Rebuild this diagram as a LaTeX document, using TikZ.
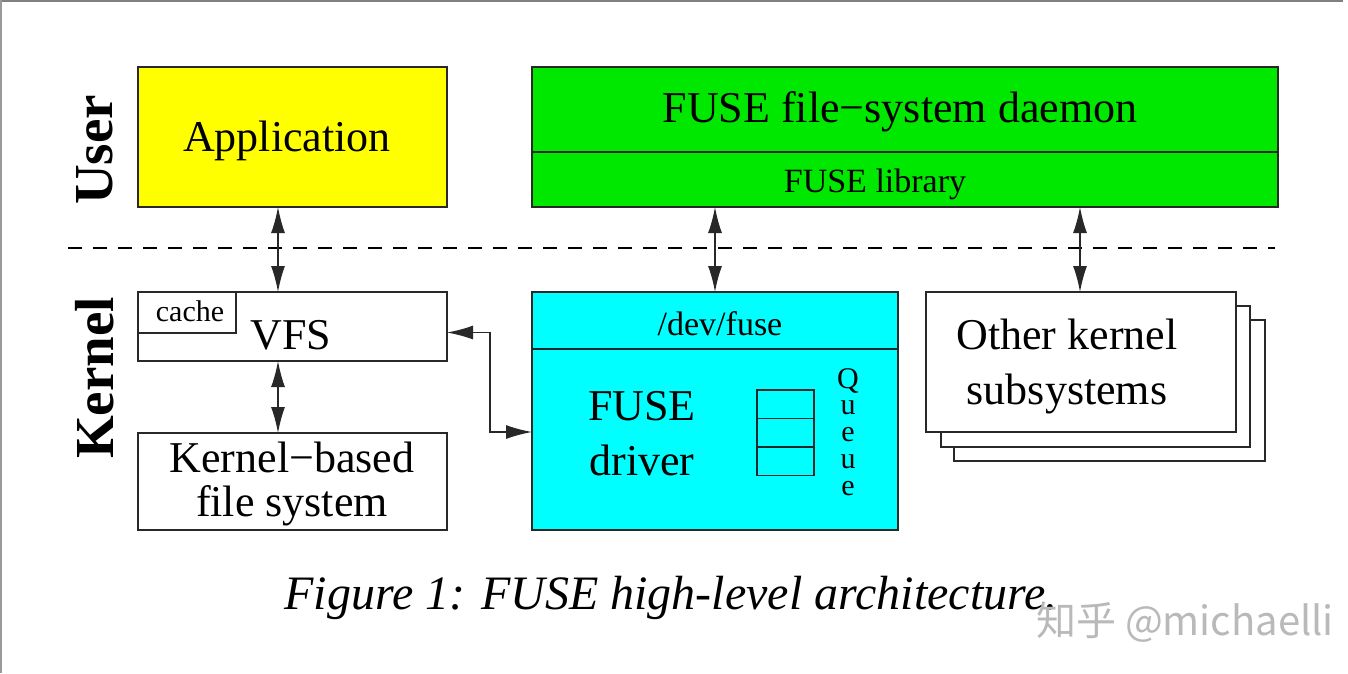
\documentclass[tikz,border=0pt]{standalone}
\usepackage{fontspec}
\setmainfont{Liberation Serif}
\newfontfamily\cjk{Noto Sans CJK SC}
\usetikzlibrary{arrows.meta,calc}
\definecolor{fgreen}{RGB}{0,232,0}
\definecolor{fcyan}{RGB}{0,255,255}
\definecolor{fyellow}{RGB}{255,255,0}
\definecolor{edge}{RGB}{40,40,40}
\begin{document}
\begin{tikzpicture}[x=1pt,y=-1pt,
  box/.style={draw=edge,line width=1.3pt,rectangle,inner sep=0pt,outer sep=0pt,align=center},
  big/.style={font=\fontsize{44}{55}\selectfont},
  small/.style={font=\fontsize{34}{40}\selectfont},
  side/.style={font=\fontsize{55}{60}\selectfont\bfseries,rotate=90},
  qletter/.style={font=\fontsize{30}{30}\selectfont,inner sep=0pt},
  tip/.tip={Latex[length=26pt,width=14pt]},
  arr/.style={line width=1.4pt,draw=edge,tip-tip}
]
\useasboundingbox (0,0) rectangle (1348,673);
\fill[white] (0,0) rectangle (1348,673);
\draw[gray,line width=2pt] (0,1) -- (1343,1);
\draw[gray!80,line width=1.5pt] (1,0) -- (1,673);

% side labels
\node[side] (user) at (95,150) {User};
\node[side] (kernel) at (95,378) {Kernel};

% user space
\node[box,fill=fyellow,minimum width=309pt,minimum height=140pt] (app) at (292.5,137) {};
\node[big] (apptxt) at (287,141) {Application};
\node[box,fill=fgreen,minimum width=746pt,minimum height=85pt] (daemon) at (905,109.5) {};
\node[big] (daemontxt) at (900,112) {FUSE file−system daemon};
\node[box,fill=fgreen,minimum width=746pt,minimum height=55pt] (lib) at (905,179.5) {};
\node[small] (libtxt) at (875,184) {FUSE library};

% separator
\coordinate (sepL) at (68,248);
\coordinate (sepR) at (1275,248);
\draw[line width=2.6pt,dash pattern=on 14pt off 11pt] (sepL) -- (sepR);

% kernel: VFS
\node[box,minimum width=309pt,minimum height=69pt] (vfs) at (292.5,326.5) {};
\node[big] (vfstxt) at (291,335) {VFS};
\node[box,minimum width=98pt,minimum height=41pt,anchor=north west] (cache) at (vfs.north west) {};
\node[font=\fontsize{30}{36}\selectfont] (cachetxt) at (190,311) {cache};

\node[box,minimum width=309pt,minimum height=97pt] (kfs) at (292.5,481.5) {};
\node[font=\fontsize{44}{44}\selectfont,align=center] (kfstxt) at (292,484) {Kernel−based\\file system};

% FUSE driver
\node[box,fill=fcyan,minimum width=366pt,minimum height=57pt] (dev) at (715,320.5) {};
\node[small] (devtxt) at (720,324) {/dev/fuse};
\node[box,fill=fcyan,minimum width=366pt,minimum height=181pt] (drv) at (715,439.5) {};
\node[big,align=center] (drvtxt) at (642,434) {FUSE\\driver};
\node[box,minimum width=57pt,minimum height=28.5pt] (q1) at (785.5,404.25) {};
\node[box,minimum width=57pt,minimum height=28.5pt] (q2) at (785.5,432.75) {};
\node[box,minimum width=57pt,minimum height=28.5pt] (q3) at (785.5,461.25) {};
\node[qletter] (qQ) at (848,381) {Q};
\node[qletter] (qu1) at (848,408) {u};
\node[qletter] (qe1) at (848,435) {e};
\node[qletter] (qu2) at (848,462) {u};
\node[qletter] (qe2) at (848,489) {e};

% other kernel subsystems (stack)
\node[box,fill=white,minimum width=311pt,minimum height=141pt] (oth3) at (1109.5,390.5) {};
\node[box,fill=white,minimum width=309pt,minimum height=141pt] (oth2) at (1095.5,376.5) {};
\node[box,fill=white,minimum width=310pt,minimum height=140pt] (oth) at (1081,362) {};
\node[big,align=center] (othtxt) at (1067,366) {Other kernel\\subsystems};

% connectors
\coordinate (xa) at (278,0);
\coordinate (xb) at (715,0);
\coordinate (xc) at (1080,0);
\coordinate (xv) at (490,0);
\draw[arr] (app.south -| xa) -- (vfs.north -| xa);
\draw[arr] (vfs.south -| xa) -- (kfs.north -| xa);
\draw[arr] (lib.south -| xb) -- (dev.north -| xb);
\draw[arr] (lib.south -| xc) -- (oth.north -| xc);
\coordinate (vin) at ($(vfs.east)+(0,6)$);
\coordinate (din) at ($(drv.west)+(0,-7.5)$);
\draw[arr] (vin) -- (vin -| xv) -- (din -| xv) -- (din);

% caption
\node[font=\fontsize{48}{52}\selectfont\itshape] (cap) at (671,598) {Figure 1: FUSE high-level architecture.};
\node[font=\cjk\fontsize{40}{42}\selectfont,text=gray!55] (wm) at (1185,622) {知乎 @michaelli};
\end{tikzpicture}
\end{document}
